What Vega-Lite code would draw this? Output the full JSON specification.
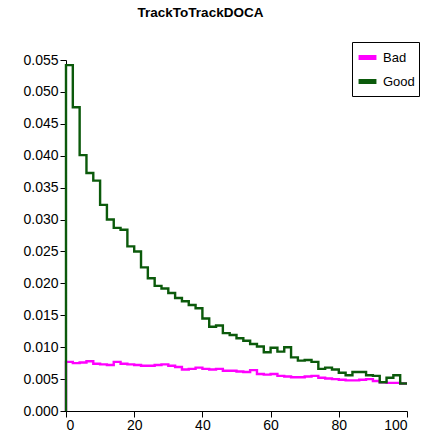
{
  "$schema": "https://vega.github.io/schema/vega-lite/v6.json",
  "width": 341,
  "height": 351,
  "autosize": {"type": "none"},
  "padding": {"left": 66, "top": 60, "right": 15, "bottom": 29},
  "background": "white",
  "title": {"text": "TrackToTrackDOCA", "font": "Liberation Sans", "fontSize": 13.5, "fontWeight": "bold", "color": "black", "anchor": "middle", "dx": -36, "offset": 22},
  "data": {"values": [
    {"s":"Bad","i":0,"x":0,"y":0},
    {"s":"Bad","i":1,"x":0,"y":0.0077},
    {"s":"Bad","i":2,"x":2,"y":0.0075},
    {"s":"Bad","i":3,"x":4,"y":0.0076},
    {"s":"Bad","i":4,"x":6,"y":0.0078},
    {"s":"Bad","i":5,"x":8,"y":0.0074},
    {"s":"Bad","i":6,"x":10,"y":0.0073},
    {"s":"Bad","i":7,"x":12,"y":0.0072},
    {"s":"Bad","i":8,"x":14,"y":0.0077},
    {"s":"Bad","i":9,"x":16,"y":0.0074},
    {"s":"Bad","i":10,"x":18,"y":0.0073},
    {"s":"Bad","i":11,"x":20,"y":0.0072},
    {"s":"Bad","i":12,"x":22,"y":0.0071},
    {"s":"Bad","i":13,"x":24,"y":0.0071},
    {"s":"Bad","i":14,"x":26,"y":0.0072},
    {"s":"Bad","i":15,"x":28,"y":0.0073},
    {"s":"Bad","i":16,"x":30,"y":0.0071},
    {"s":"Bad","i":17,"x":32,"y":0.0069},
    {"s":"Bad","i":18,"x":34,"y":0.0065},
    {"s":"Bad","i":19,"x":36,"y":0.0066},
    {"s":"Bad","i":20,"x":38,"y":0.0068},
    {"s":"Bad","i":21,"x":40,"y":0.0066},
    {"s":"Bad","i":22,"x":42,"y":0.0065},
    {"s":"Bad","i":23,"x":44,"y":0.0066},
    {"s":"Bad","i":24,"x":46,"y":0.0063},
    {"s":"Bad","i":25,"x":48,"y":0.0063},
    {"s":"Bad","i":26,"x":50,"y":0.0062},
    {"s":"Bad","i":27,"x":52,"y":0.0061},
    {"s":"Bad","i":28,"x":54,"y":0.0064},
    {"s":"Bad","i":29,"x":56,"y":0.0058},
    {"s":"Bad","i":30,"x":58,"y":0.0057},
    {"s":"Bad","i":31,"x":60,"y":0.0058},
    {"s":"Bad","i":32,"x":62,"y":0.0055},
    {"s":"Bad","i":33,"x":64,"y":0.0054},
    {"s":"Bad","i":34,"x":66,"y":0.0053},
    {"s":"Bad","i":35,"x":68,"y":0.0053},
    {"s":"Bad","i":36,"x":70,"y":0.0054},
    {"s":"Bad","i":37,"x":72,"y":0.0055},
    {"s":"Bad","i":38,"x":74,"y":0.0052},
    {"s":"Bad","i":39,"x":76,"y":0.0051},
    {"s":"Bad","i":40,"x":78,"y":0.0050},
    {"s":"Bad","i":41,"x":80,"y":0.0049},
    {"s":"Bad","i":42,"x":82,"y":0.0048},
    {"s":"Bad","i":43,"x":84,"y":0.0048},
    {"s":"Bad","i":44,"x":86,"y":0.0049},
    {"s":"Bad","i":45,"x":88,"y":0.0050},
    {"s":"Bad","i":46,"x":90,"y":0.0047},
    {"s":"Bad","i":47,"x":92,"y":0.0045},
    {"s":"Bad","i":48,"x":94,"y":0.0044},
    {"s":"Bad","i":49,"x":96,"y":0.0044},
    {"s":"Bad","i":50,"x":98,"y":0.0043},
    {"s":"Bad","i":51,"x":100,"y":0.0043},
    {"s":"Good","i":0,"x":0,"y":0},
    {"s":"Good","i":1,"x":0,"y":0.0542},
    {"s":"Good","i":2,"x":2,"y":0.0476},
    {"s":"Good","i":3,"x":4,"y":0.0401},
    {"s":"Good","i":4,"x":6,"y":0.0373},
    {"s":"Good","i":5,"x":8,"y":0.0361},
    {"s":"Good","i":6,"x":10,"y":0.0323},
    {"s":"Good","i":7,"x":12,"y":0.0300},
    {"s":"Good","i":8,"x":14,"y":0.0287},
    {"s":"Good","i":9,"x":16,"y":0.0284},
    {"s":"Good","i":10,"x":18,"y":0.0258},
    {"s":"Good","i":11,"x":20,"y":0.0250},
    {"s":"Good","i":12,"x":22,"y":0.0225},
    {"s":"Good","i":13,"x":24,"y":0.0208},
    {"s":"Good","i":14,"x":26,"y":0.0196},
    {"s":"Good","i":15,"x":28,"y":0.0192},
    {"s":"Good","i":16,"x":30,"y":0.0185},
    {"s":"Good","i":17,"x":32,"y":0.0177},
    {"s":"Good","i":18,"x":34,"y":0.0172},
    {"s":"Good","i":19,"x":36,"y":0.0166},
    {"s":"Good","i":20,"x":38,"y":0.0161},
    {"s":"Good","i":21,"x":40,"y":0.0145},
    {"s":"Good","i":22,"x":42,"y":0.0132},
    {"s":"Good","i":23,"x":44,"y":0.0134},
    {"s":"Good","i":24,"x":46,"y":0.0122},
    {"s":"Good","i":25,"x":48,"y":0.0119},
    {"s":"Good","i":26,"x":50,"y":0.0114},
    {"s":"Good","i":27,"x":52,"y":0.0110},
    {"s":"Good","i":28,"x":54,"y":0.0105},
    {"s":"Good","i":29,"x":56,"y":0.0101},
    {"s":"Good","i":30,"x":58,"y":0.0092},
    {"s":"Good","i":31,"x":60,"y":0.0099},
    {"s":"Good","i":32,"x":62,"y":0.0093},
    {"s":"Good","i":33,"x":64,"y":0.0100},
    {"s":"Good","i":34,"x":66,"y":0.0084},
    {"s":"Good","i":35,"x":68,"y":0.0079},
    {"s":"Good","i":36,"x":70,"y":0.0080},
    {"s":"Good","i":37,"x":72,"y":0.0077},
    {"s":"Good","i":38,"x":74,"y":0.0066},
    {"s":"Good","i":39,"x":76,"y":0.0068},
    {"s":"Good","i":40,"x":78,"y":0.0065},
    {"s":"Good","i":41,"x":80,"y":0.0060},
    {"s":"Good","i":42,"x":82,"y":0.0056},
    {"s":"Good","i":43,"x":84,"y":0.0061},
    {"s":"Good","i":44,"x":86,"y":0.0061},
    {"s":"Good","i":45,"x":88,"y":0.0056},
    {"s":"Good","i":46,"x":90,"y":0.0055},
    {"s":"Good","i":47,"x":92,"y":0.0045},
    {"s":"Good","i":48,"x":94,"y":0.0052},
    {"s":"Good","i":49,"x":96,"y":0.0056},
    {"s":"Good","i":50,"x":98,"y":0.0043},
    {"s":"Good","i":51,"x":100,"y":0.0043}
  ]},
  "mark": {"type": "line", "interpolate": "step-after", "strokeWidth": 2.4},
  "encoding": {
    "x": {"field": "x", "type": "quantitative", "scale": {"domain": [0, 100], "nice": false},
      "axis": {"title": null, "values": [0, 20, 40, 60, 80, 100], "grid": false, "labelFont": "Liberation Sans", "labelFontSize": 14, "labelColor": "black", "domainColor": "black", "tickColor": "black", "tickSize": 6, "labelPadding": 1}},
    "y": {"field": "y", "type": "quantitative", "scale": {"domain": [0, 0.055], "nice": false},
      "axis": {"title": null, "values": [0, 0.005, 0.01, 0.015, 0.02, 0.025, 0.03, 0.035, 0.04, 0.045, 0.05, 0.055], "format": ".3f", "grid": false, "labelFont": "Liberation Sans", "labelFontSize": 14, "labelColor": "black", "domainColor": "black", "tickColor": "black", "tickSize": 6, "labelPadding": 2}},
    "color": {"field": "s", "type": "nominal", "scale": {"domain": ["Bad", "Good"], "range": ["#ff00ff", "#0b5a0b"]},
      "legend": {"title": null, "orient": "none", "legendX": 286, "legendY": -18, "strokeColor": "black", "fillColor": "white", "padding": 4, "symbolType": "stroke", "symbolStrokeWidth": 5, "symbolSize": 320, "labelFont": "Liberation Sans", "labelFontSize": 13, "labelColor": "black", "rowPadding": 2, "labelOffset": 4}},
    "order": {"field": "i", "type": "quantitative"}
  },
  "config": {"view": {"stroke": null}}
}
